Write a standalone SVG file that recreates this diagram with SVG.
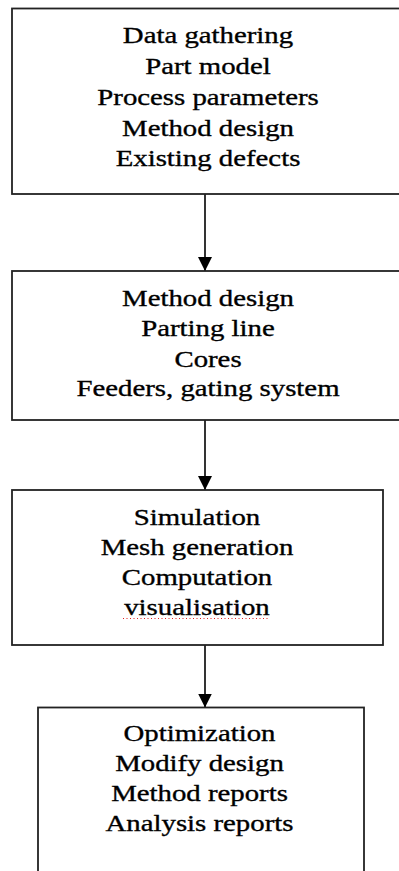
<svg xmlns="http://www.w3.org/2000/svg" width="399" height="871" viewBox="0 0 399 871">
<defs>
<style>
.box{fill:#fff;stroke:#222;stroke-width:1.8}
.t{font-family:"Liberation Serif","Times New Roman",serif;font-size:24px;fill:#000;stroke:#000;stroke-width:0.35;text-anchor:middle}
.c{stroke:#000;stroke-width:1.6;fill:none}
</style>
<marker id="ah" viewBox="0 0 14 14" refX="14" refY="7" markerWidth="14" markerHeight="14" markerUnits="userSpaceOnUse" orient="auto">
<path d="M0,0 L14,7 L0,14 Z" fill="#000"/>
</marker>
</defs>
<rect width="399" height="871" fill="#fff"/>
<g id="connectors">
<line class="c" x1="205" y1="194" x2="205" y2="271" marker-end="url(#ah)"/>
<line class="c" x1="205" y1="420" x2="205" y2="490" marker-end="url(#ah)"/>
<line class="c" x1="205" y1="645" x2="205" y2="707.5" marker-end="url(#ah)"/>
</g>
<g id="node1">
<rect class="box" x="12" y="8.5" width="392" height="185.5"/>
<g transform="translate(208,0) scale(1.2,1)">
<text class="t" x="0" y="43">Data gathering</text>
<text class="t" x="0" y="74.5">Part model</text>
<text class="t" x="0" y="105.5">Process parameters</text>
<text class="t" x="0" y="136">Method design</text>
<text class="t" x="0" y="166.5">Existing defects</text>
</g>
</g>
<g id="node2">
<rect class="box" x="12" y="271" width="392" height="149"/>
<g transform="translate(208,0) scale(1.2,1)">
<text class="t" x="0" y="306">Method design</text>
<text class="t" x="0" y="336.5">Parting line</text>
<text class="t" x="0" y="366.5">Cores</text>
<text class="t" x="0" y="396.5">Feeders, gating system</text>
</g>
</g>
<g id="node3">
<rect class="box" x="12" y="490" width="371" height="155"/>
<g transform="translate(197,0) scale(1.2,1)">
<text class="t" x="0" y="525">Simulation</text>
<text class="t" x="0" y="555">Mesh generation</text>
<text class="t" x="0" y="585.5">Computation</text>
<text class="t" x="0" y="615">visualisation</text>
</g>
<line x1="123" y1="618.5" x2="268" y2="618.5" stroke="#e02020" stroke-width="1" stroke-dasharray="1,2.5"/>
</g>
<g id="node4">
<rect class="box" x="38" y="707.5" width="326" height="200"/>
<g transform="translate(199.5,0) scale(1.2,1)">
<text class="t" x="0" y="741">Optimization</text>
<text class="t" x="0" y="771">Modify design</text>
<text class="t" x="0" y="801.5">Method reports</text>
<text class="t" x="0" y="831.5">Analysis reports</text>
</g>
</g>
</svg>
